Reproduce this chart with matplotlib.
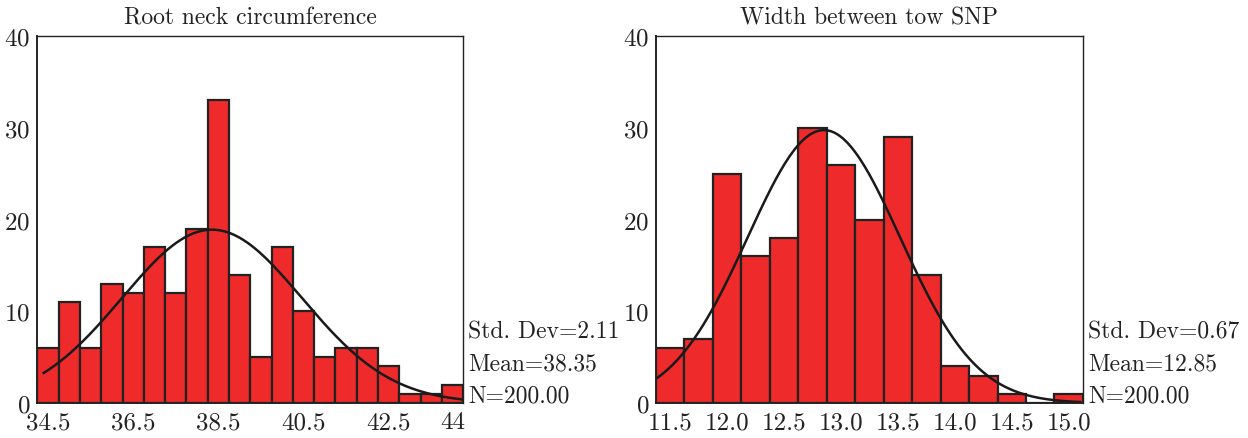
import matplotlib
matplotlib.use("Agg")
import matplotlib.pyplot as plt
import numpy as np

plt.rcParams['font.family'] = ['cmr10', 'DejaVu Serif']
plt.rcParams['axes.formatter.use_mathtext'] = True

# Root neck circumference: bin centres (width 0.5) and counts
neck_centers = [34.5 + 0.5 * i for i in range(20)]
neck_counts = [6, 11, 6, 13, 12, 17, 12, 19, 33, 14, 5, 17, 10, 5, 6, 6, 4, 1, 1, 2]
neck_ticks = [34.5, 36.5, 38.5, 40.5, 42.5, 44]
neck_ticklabels = ['34.5', '36.5', '38.5', '40.5', '42.5', '44']
neck_mean, neck_sd, neck_n = 38.35, 2.11, 200

# Width between tow SNP: bin centres (width 0.25) and counts
snp_centers = [11.5 + 0.25 * i for i in range(15)]
snp_counts = [6, 7, 25, 16, 18, 30, 26, 20, 29, 14, 4, 3, 1, 0, 1]
snp_ticks = [11.5, 12.0, 12.5, 13.0, 13.5, 14.0, 14.5, 15.0]
snp_ticklabels = ['11.5', '12.0', '12.5', '13.0', '13.5', '14.0', '14.5', '15.0']
snp_mean, snp_sd, snp_n = 12.85, 0.67, 200

fig = plt.figure(figsize=(12.48, 4.39), dpi=100)


def panel(rect, centers, counts, width, ticks, ticklabels, mean, sd, n, title, xlim, curve_x):
    ax = fig.add_axes(rect)
    ax.bar(centers, counts, width=width, color='#ee2a2a', edgecolor='#222222', linewidth=1.6)
    xs = np.linspace(curve_x[0], curve_x[1], 300)
    ys = n * width / (sd * np.sqrt(2 * np.pi)) * np.exp(-0.5 * ((xs - mean) / sd) ** 2)
    ax.plot(xs, ys, color='#1a1a1a', linewidth=1.8)
    ax.set_xlim(*xlim)
    ax.set_ylim(0, 40)
    ax.set_yticks([0, 10, 20, 30, 40])
    ax.set_xticks(ticks)
    ax.set_xticklabels(ticklabels)
    ax.tick_params(length=0, labelsize=18, colors='#222222')
    ax.tick_params(axis='x', pad=6)
    ax.tick_params(axis='y', pad=5)
    for s in ax.spines.values():
        s.set_color('#222222')
        s.set_linewidth(1.0)
    ax.spines['left'].set_linewidth(1.4)
    ax.spines['bottom'].set_linewidth(1.4)
    ax.set_title(title, fontsize=17, pad=9, color='#222222')
    stats = ['Std. Dev=%.2f' % sd, 'Mean=%.2f' % mean, 'N=%.2f' % n]
    for i, s in enumerate(stats):
        ax.text(1.012, 0.195 - i * 0.087, s, transform=ax.transAxes, fontsize=17,
                va='center', ha='left', color='#222222')
    return ax


panel([0.0299, 0.0797, 0.3413, 0.8353], neck_centers, neck_counts, 0.5,
      neck_ticks, neck_ticklabels, neck_mean, neck_sd, neck_n,
      'Root neck circumference', (34.25, 44.25), (34.4, 44.2))
panel([0.5256, 0.0797, 0.3421, 0.8353], snp_centers, snp_counts, 0.25,
      snp_ticks, snp_ticklabels, snp_mean, snp_sd, snp_n,
      'Width between tow SNP', (11.375, 15.125), (11.375, 15.1))

fig.savefig('out.png', dpi=100)
